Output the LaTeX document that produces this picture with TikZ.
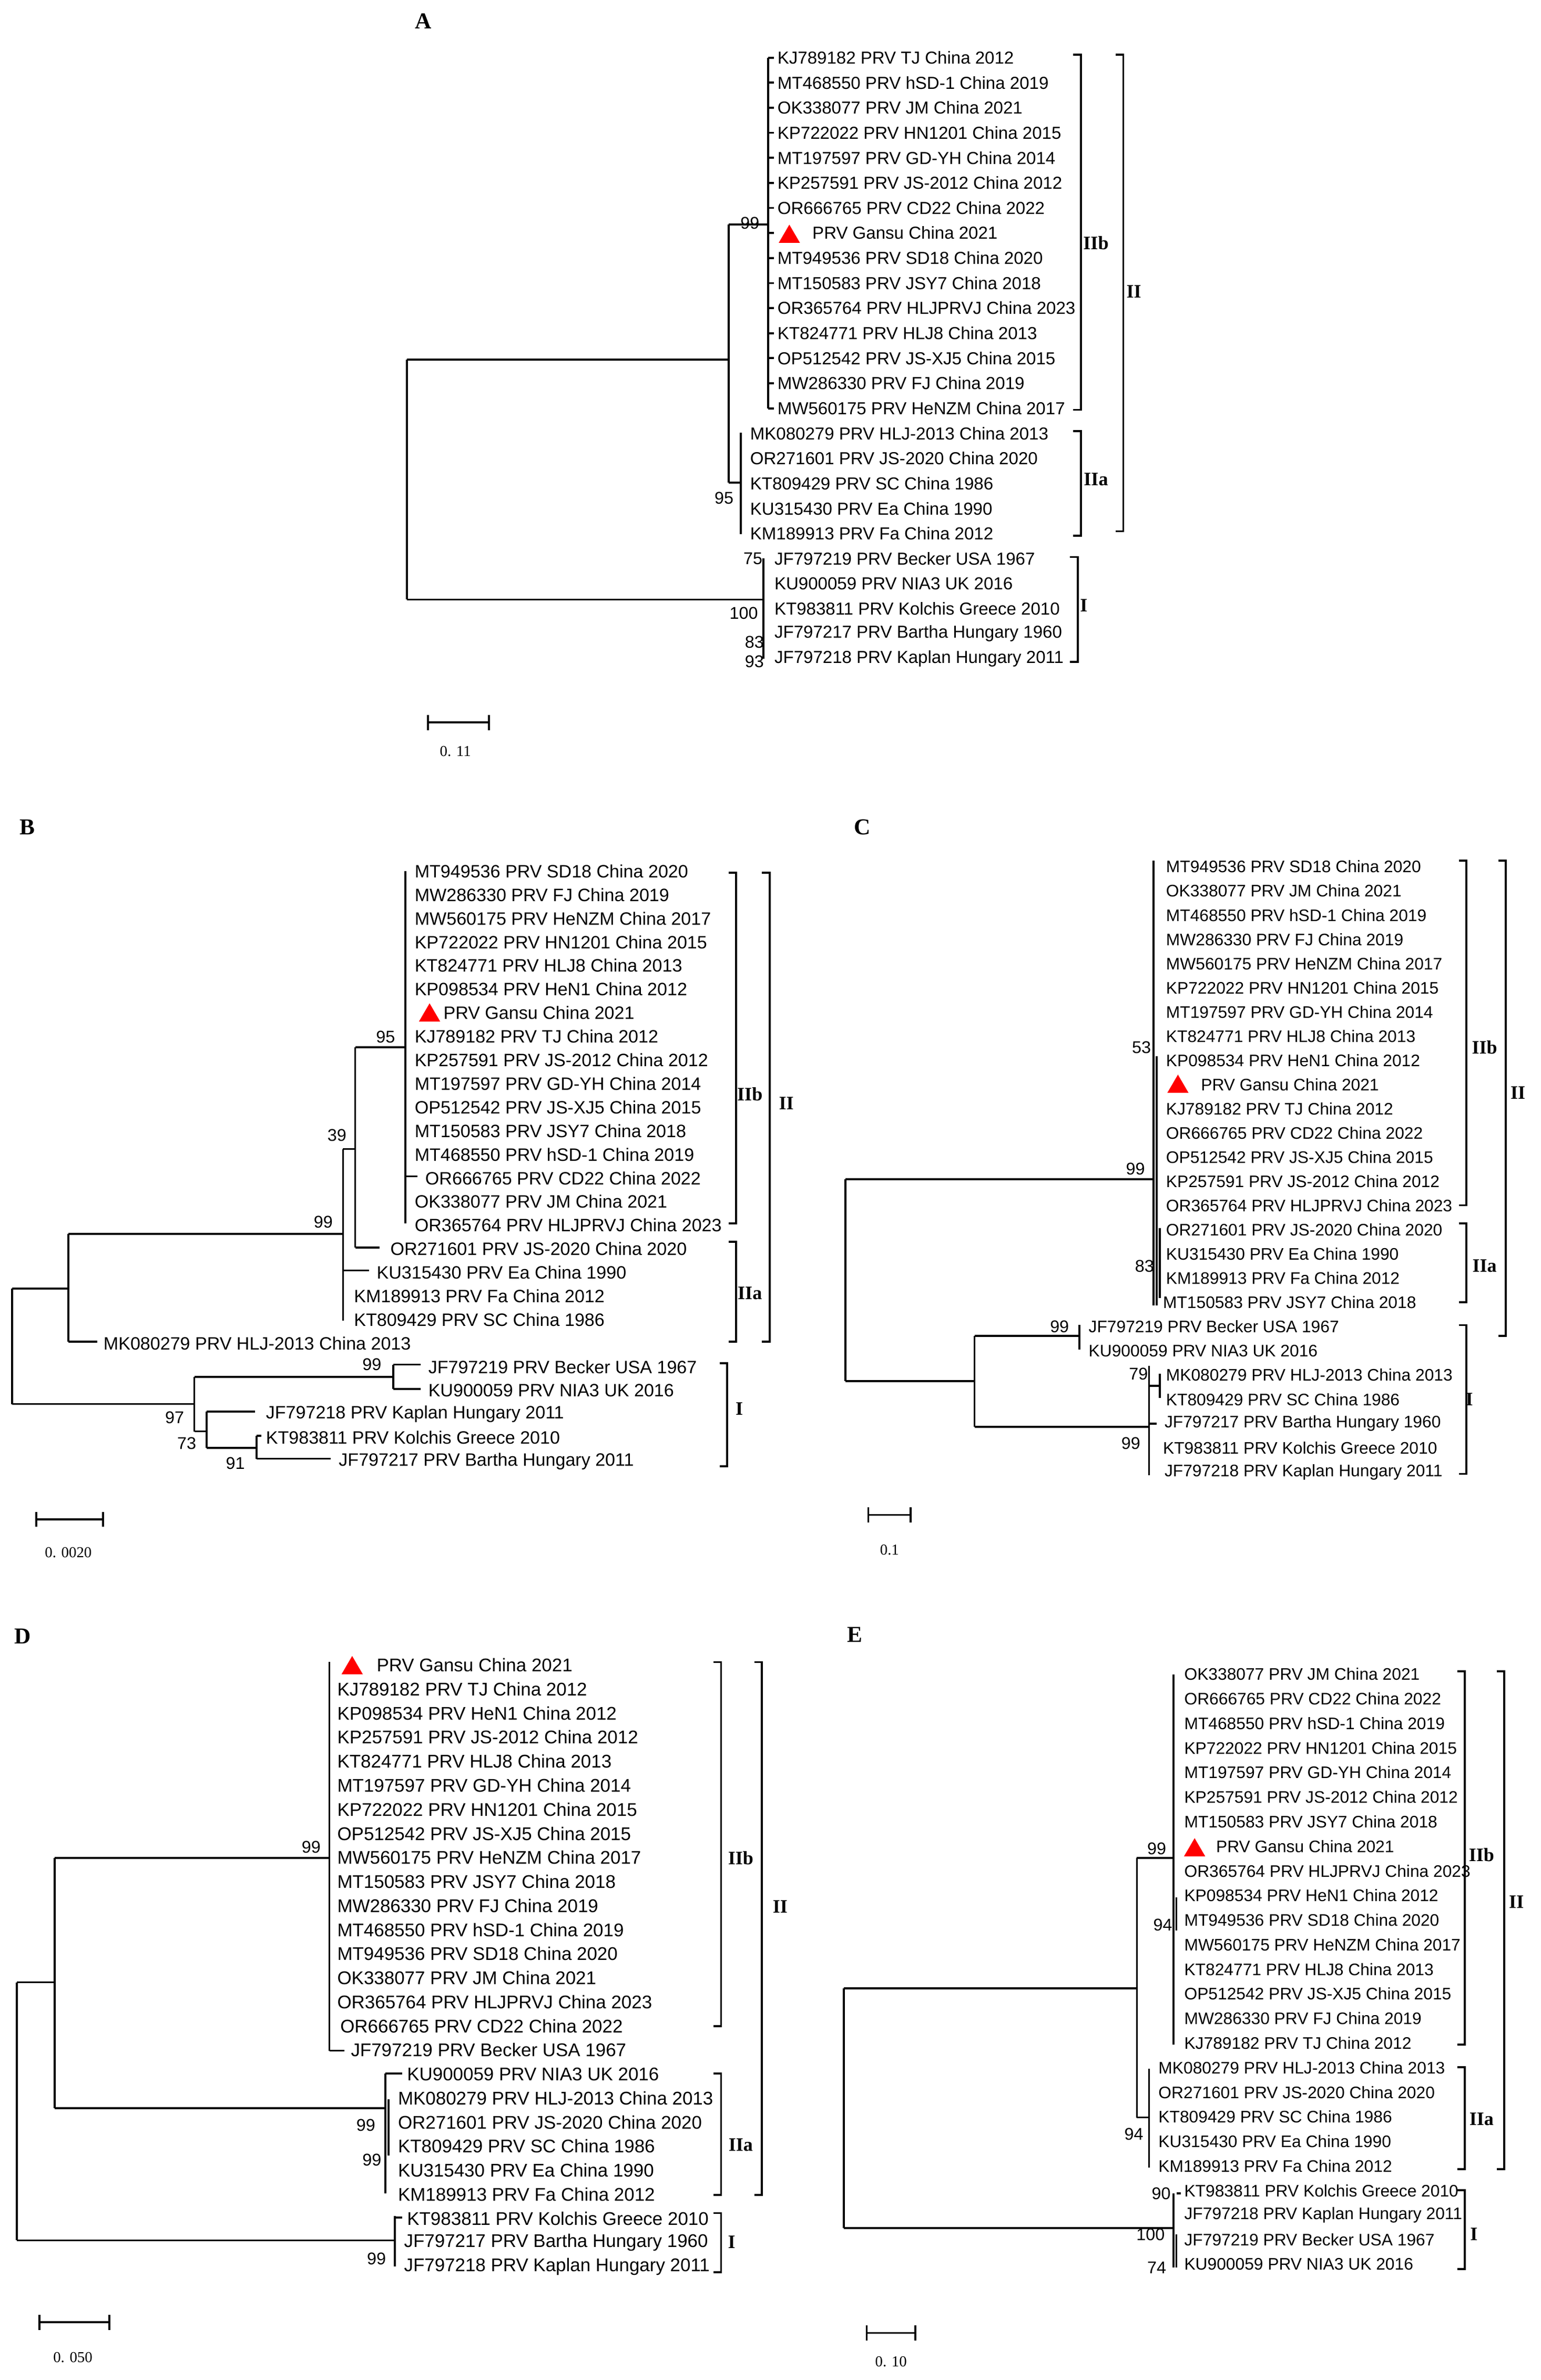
\documentclass[tikz,border=0pt]{standalone}
\usepackage{fontspec}
\setmainfont{Liberation Serif}
\setsansfont{Liberation Sans}
\def\lfs{11.2}
\begin{document}
\begin{tikzpicture}[x=1pt,y=-1pt,
  lab/.style={font=\sffamily\fontsize{\lfs}{12}\selectfont,anchor=west,inner sep=0pt},
  bs/.style={font=\sffamily\fontsize{11.2}{12}\selectfont,inner sep=0pt},
  clade/.style={font=\bfseries\fontsize{12.5}{13}\selectfont,inner sep=0pt},
  panel/.style={font=\bfseries\fontsize{15}{16}\selectfont,inner sep=0pt},
  br/.style={line width=1.3pt},
  tr/.style={line width=1.3pt}]
\useasboundingbox (0,0) rectangle (1015,1568);
\fill[white] (0,0) rectangle (1015,1568);

% ================= A =================
\def\lfs{11.45}
\node[panel] (pA) at (279,14) {A};
\foreach \x/\t [count=\i] in {512/KJ789182 PRV TJ China 2012,512/MT468550 PRV hSD-1 China 2019,512/OK338077 PRV JM China 2021,512/KP722022 PRV HN1201 China 2015,512/MT197597 PRV GD-YH China 2014,512/KP257591 PRV JS-2012 China 2012,512/OR666765 PRV CD22 China 2022,535/PRV Gansu China 2021,512/MT949536 PRV SD18 China 2020,512/MT150583 PRV JSY7 China 2018,512/OR365764 PRV HLJPRVJ China 2023,512/KT824771 PRV HLJ8 China 2013,512/OP512542 PRV JS-XJ5 China 2015,512/MW286330 PRV FJ China 2019,512/MW560175 PRV HeNZM China 2017,494/MK080279 PRV HLJ-2013 China 2013,494/OR271601 PRV JS-2020 China 2020,494/KT809429 PRV SC China 1986,494/KU315430 PRV Ea China 1990,494/KM189913 PRV Fa China 2012,510/JF797219 PRV Becker USA 1967,510/KU900059 PRV NIA3 UK 2016,510/KT983811 PRV Kolchis Greece 2010,510/JF797217 PRV Bartha Hungary 1960,510/JF797218 PRV Kaplan Hungary 2011}
  \node[lab] (A\i) at (\x,{38+16.5*(\i-1)}) {\t};
\fill[red] (513,160) -- (527,160) -- (520,148) -- cycle;
\draw[tr] (268,237)--(268,395) (268,237)--(480,237) (480,148)--(480,318) (480,148)--(506,148) (506,38)--(506,269)
  (480,318)--(488,318) (488,285)--(488,352) (268,395)--(503,395) (503,368)--(503,434);
\foreach \i in {1,...,15} \draw[tr] (506,{38+16.5*(\i-1)})--(510,{38+16.5*(\i-1)});
\node[bs] (a99) at (494,147) {99};
\node[bs] (a95) at (477,328) {95};
\node[bs] (a75) at (496,368) {75};
\node[bs] (a100) at (490,404) {100};
\node[bs] (a83) at (497,423) {83};
\node[bs] (a93) at (497,436) {93};
\draw[br] (707,36)--(712,36)--(712,270)--(707,270);
\draw[br] (707,284)--(712,284)--(712,353)--(707,353);
\draw[br] (735,36)--(740,36)--(740,350)--(735,350);
\draw[br] (705,367)--(710,367)--(710,436)--(705,436);
\node[clade] (aIIb) at (722,160) {IIb};
\node[clade] (aIIa) at (722,316) {IIa};
\node[clade] (aII) at (747,192) {II};
\node[clade] (aI) at (714,399) {I};
\draw[tr] (282,476)--(322,476) (282,471)--(282,481) (322,471)--(322,481);
\node[bs,font=\fontsize{10}{11}\selectfont] (asc) at (300,495) {0. 11};

% ================= B =================
\def\lfs{11.8}
\node[panel] (pB) at (18,545) {B};
\foreach \x/\t [count=\i] in {273/MT949536 PRV SD18 China 2020,273/MW286330 PRV FJ China 2019,273/MW560175 PRV HeNZM China 2017,273/KP722022 PRV HN1201 China 2015,273/KT824771 PRV HLJ8 China 2013,273/KP098534 PRV HeN1 China 2012,292/PRV Gansu China 2021,273/KJ789182 PRV TJ China 2012,273/KP257591 PRV JS-2012 China 2012,273/MT197597 PRV GD-YH China 2014,273/OP512542 PRV JS-XJ5 China 2015,273/MT150583 PRV JSY7 China 2018,273/MT468550 PRV hSD-1 China 2019,280/OR666765 PRV CD22 China 2022,273/OK338077 PRV JM China 2021,273/OR365764 PRV HLJPRVJ China 2023,257/OR271601 PRV JS-2020 China 2020,248/KU315430 PRV Ea China 1990,233/KM189913 PRV Fa China 2012,233/KT809429 PRV SC China 1986,68/MK080279 PRV HLJ-2013 China 2013,282/JF797219 PRV Becker USA 1967,282/KU900059 PRV NIA3 UK 2016,175/JF797218 PRV Kaplan Hungary 2011,175/KT983811 PRV Kolchis Greece 2010,223/JF797217 PRV Bartha Hungary 2011}
  \node[lab] (B\i) at (\x,{574+15.55*(\i-1)}) {\t};
\fill[red] (276,673) -- (290,673) -- (283,661) -- cycle;
\draw[tr] (8,849)--(8,925) (8,849)--(45,849) (45,813)--(45,884) (45,884)--(64,884)
  (45,813)--(226,813) (226,757)--(226,870) (226,837)--(243,837)
  (226,757)--(234,757) (234,690)--(234,822) (234,822)--(250,822)
  (234,690)--(267,690) (267,574)--(267,806) (267,775)--(275,775)
  (8,925)--(128,925) (128,907)--(128,943) (128,907)--(259,907) (259,899)--(259,915) (259,899)--(277,899) (259,915)--(277,915)
  (128,943)--(136,943) (136,930)--(136,954) (136,930)--(168,930) (136,954)--(169,954) (169,946)--(169,961) (169,946)--(172,946) (169,961)--(218,961);
\node[bs] (b95) at (254,683) {95};
\node[bs] (b39) at (222,748) {39};
\node[bs] (b99) at (213,805) {99};
\node[bs] (b99b) at (245,899) {99};
\node[bs] (b97) at (115,934) {97};
\node[bs] (b73) at (123,951) {73};
\node[bs] (b91) at (155,964) {91};
\draw[br] (480,575)--(485,575)--(485,806)--(480,806);
\draw[br] (480,818)--(485,818)--(485,884)--(480,884);
\draw[br] (502,575)--(507,575)--(507,884)--(502,884);
\draw[br] (474,898)--(479,898)--(479,966)--(474,966);
\node[clade] (bIIb) at (494,721) {IIb};
\node[clade] (bIIa) at (494,852) {IIa};
\node[clade] (bII) at (518,727) {II};
\node[clade] (bI) at (487,928) {I};
\draw[tr] (24,1001)--(68,1001) (24,996)--(24,1006) (68,996)--(68,1006);
\node[bs,font=\fontsize{10}{11}\selectfont] (bsc) at (45,1023) {0. 0020};

% ================= C =================
\def\lfs{11.0}
\node[panel] (pC) at (568,545) {C};
\foreach \x/\t [count=\i] in {768/MT949536 PRV SD18 China 2020,768/OK338077 PRV JM China 2021,768/MT468550 PRV hSD-1 China 2019,768/MW286330 PRV FJ China 2019,768/MW560175 PRV HeNZM China 2017,768/KP722022 PRV HN1201 China 2015,768/MT197597 PRV GD-YH China 2014,768/KT824771 PRV HLJ8 China 2013,768/KP098534 PRV HeN1 China 2012,791/PRV Gansu China 2021,768/KJ789182 PRV TJ China 2012,768/OR666765 PRV CD22 China 2022,768/OP512542 PRV JS-XJ5 China 2015,768/KP257591 PRV JS-2012 China 2012,768/OR365764 PRV HLJPRVJ China 2023,768/OR271601 PRV JS-2020 China 2020,768/KU315430 PRV Ea China 1990,768/KM189913 PRV Fa China 2012,766/MT150583 PRV JSY7 China 2018,717/JF797219 PRV Becker USA 1967,717/KU900059 PRV NIA3 UK 2016,768/MK080279 PRV HLJ-2013 China 2013,768/KT809429 PRV SC China 1986,767/JF797217 PRV Bartha Hungary 1960,766/KT983811 PRV Kolchis Greece 2010,767/JF797218 PRV Kaplan Hungary 2011}
  \node[lab] (C\i) at (\x,{571+15.95*(\i-1)}) {\t};
\fill[red] (769,720) -- (783,720) -- (776,708) -- cycle;
\draw[tr] (557,777)--(557,910) (557,777)--(760,777) (760,567)--(760,860) (762,696)--(762,860) (764,809)--(764,855)
  (557,910)--(642,910) (642,880)--(642,940) (642,880)--(711,880) (711,873)--(711,889)
  (642,940)--(757,940) (757,900)--(757,972) (757,913)--(764,913) (764,905)--(764,921) (757,938)--(762,938);
\node[bs] (c53) at (752,690) {53};
\node[bs] (c99) at (748,770) {99};
\node[bs] (c83) at (754,834) {83};
\node[bs] (c99b) at (698,874) {99};
\node[bs] (c79) at (750,905) {79};
\node[bs] (c99c) at (745,951) {99};
\draw[br] (961,567)--(966,567)--(966,794)--(961,794);
\draw[br] (961,806)--(966,806)--(966,858)--(961,858);
\draw[br] (987,567)--(992,567)--(992,880)--(987,880);
\draw[br] (961,873)--(966,873)--(966,971)--(961,971);
\node[clade] (cIIb) at (978,690) {IIb};
\node[clade] (cIIa) at (978,834) {IIa};
\node[clade] (cII) at (1000,720) {II};
\node[clade] (cI) at (968,922) {I};
\draw[tr] (572,998)--(600,998) (572,993)--(572,1003) (600,993)--(600,1003);
\node[bs,font=\fontsize{10}{11}\selectfont] (csc) at (586,1021) {0.1};

% ================= D =================
\def\lfs{12.1}
\node[panel] (pD) at (15,1078) {D};
\foreach \x/\t [count=\i] in {248/PRV Gansu China 2021,222/KJ789182 PRV TJ China 2012,222/KP098534 PRV HeN1 China 2012,222/KP257591 PRV JS-2012 China 2012,222/KT824771 PRV HLJ8 China 2013,222/MT197597 PRV GD-YH China 2014,222/KP722022 PRV HN1201 China 2015,222/OP512542 PRV JS-XJ5 China 2015,222/MW560175 PRV HeNZM China 2017,222/MT150583 PRV JSY7 China 2018,222/MW286330 PRV FJ China 2019,222/MT468550 PRV hSD-1 China 2019,222/MT949536 PRV SD18 China 2020,222/OK338077 PRV JM China 2021,222/OR365764 PRV HLJPRVJ China 2023,224/OR666765 PRV CD22 China 2022,231/JF797219 PRV Becker USA 1967,268/KU900059 PRV NIA3 UK 2016,262/MK080279 PRV HLJ-2013 China 2013,262/OR271601 PRV JS-2020 China 2020,262/KT809429 PRV SC China 1986,262/KU315430 PRV Ea China 1990,262/KM189913 PRV Fa China 2012,268/KT983811 PRV Kolchis Greece 2010,266/JF797217 PRV Bartha Hungary 1960,266/JF797218 PRV Kaplan Hungary 2011}
  \node[lab] (D\i) at (\x,{1097+15.85*(\i-1)}) {\t};
\fill[red] (225,1103) -- (239,1103) -- (232,1091) -- cycle;
\draw[tr] (11,1306)--(11,1476) (11,1306)--(36,1306) (36,1224)--(36,1389)
  (36,1224)--(217,1224) (217,1095)--(217,1351) (217,1351)--(227,1351)
  (36,1389)--(254,1389) (254,1366)--(254,1445) (254,1366)--(265,1366) (256,1383)--(256,1420)
  (11,1476)--(260,1476) (260,1460)--(260,1493) (260,1461)--(265,1461);
\node[bs] (d99) at (205,1217) {99};
\node[bs] (d99b) at (241,1400) {99};
\node[bs] (d99c) at (245,1423) {99};
\node[bs] (d99d) at (248,1488) {99};
\draw[br] (470,1095)--(475,1095)--(475,1335)--(470,1335);
\draw[br] (470,1366)--(475,1366)--(475,1446)--(470,1446);
\draw[br] (497,1095)--(502,1095)--(502,1446)--(497,1446);
\draw[br] (470,1458)--(475,1458)--(475,1497)--(470,1497);
\node[clade] (dIIb) at (488,1224) {IIb};
\node[clade] (dIIa) at (488,1413) {IIa};
\node[clade] (dII) at (514,1256) {II};
\node[clade] (dI) at (482,1477) {I};
\draw[tr] (26,1530)--(72,1530) (26,1525)--(26,1535) (72,1525)--(72,1535);
\node[bs,font=\fontsize{10}{11}\selectfont] (dsc) at (48,1553) {0. 050};

% ================= E =================
\def\lfs{11.0}
\node[panel] (pE) at (563,1077) {E};
\foreach \x/\t [count=\i] in {780/OK338077 PRV JM China 2021,780/OR666765 PRV CD22 China 2022,780/MT468550 PRV hSD-1 China 2019,780/KP722022 PRV HN1201 China 2015,780/MT197597 PRV GD-YH China 2014,780/KP257591 PRV JS-2012 China 2012,780/MT150583 PRV JSY7 China 2018,801/PRV Gansu China 2021,780/OR365764 PRV HLJPRVJ China 2023,780/KP098534 PRV HeN1 China 2012,780/MT949536 PRV SD18 China 2020,780/MW560175 PRV HeNZM China 2017,780/KT824771 PRV HLJ8 China 2013,780/OP512542 PRV JS-XJ5 China 2015,780/MW286330 PRV FJ China 2019,780/KJ789182 PRV TJ China 2012,763/MK080279 PRV HLJ-2013 China 2013,763/OR271601 PRV JS-2020 China 2020,763/KT809429 PRV SC China 1986,763/KU315430 PRV Ea China 1990,763/KM189913 PRV Fa China 2012,780/KT983811 PRV Kolchis Greece 2010,780/JF797218 PRV Kaplan Hungary 2011,780/JF797219 PRV Becker USA 1967,780/KU900059 PRV NIA3 UK 2016}
  \node[lab] (E\i) at (\x,{1103+16.2*(\i-1)}) {\t};
\fill[red] (780,1223) -- (794,1223) -- (787,1211) -- cycle;
\draw[tr] (556,1310)--(556,1468) (556,1310)--(749,1310) (749,1224)--(749,1395)
  (749,1224)--(773,1224) (773,1103)--(773,1347) (775,1250)--(775,1272)
  (749,1395)--(757,1395) (757,1363)--(757,1428)
  (556,1468)--(773,1468) (773,1445)--(773,1494) (775,1445)--(778,1445) (775,1472)--(775,1494);
\node[bs] (e99) at (762,1218) {99};
\node[bs] (e94) at (766,1268) {94};
\node[bs] (e94b) at (747,1406) {94};
\node[bs] (e90) at (765,1445) {90};
\node[bs] (e100) at (758,1472) {100};
\node[bs] (e74) at (762,1494) {74};
\draw[br] (960,1101)--(965,1101)--(965,1347)--(960,1347);
\draw[br] (960,1362)--(965,1362)--(965,1429)--(960,1429);
\draw[br] (986,1101)--(991,1101)--(991,1429)--(986,1429);
\draw[br] (960,1443)--(965,1443)--(965,1495)--(960,1495);
\node[clade] (eIIb) at (976,1222) {IIb};
\node[clade] (eIIa) at (976,1396) {IIa};
\node[clade] (eII) at (999,1253) {II};
\node[clade] (eI) at (971,1472) {I};
\draw[tr] (571,1537)--(603,1537) (571,1532)--(571,1542) (603,1532)--(603,1542);
\node[bs,font=\fontsize{10}{11}\selectfont] (esc) at (587,1556) {0. 10};
\end{tikzpicture}
\end{document}
